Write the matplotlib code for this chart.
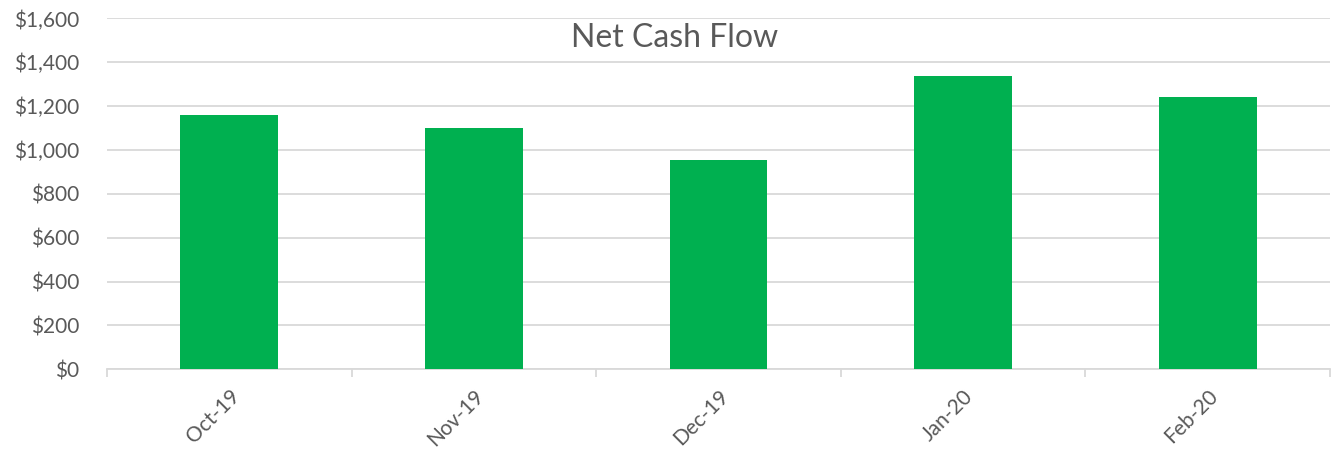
import matplotlib
matplotlib.use("Agg")
import matplotlib.pyplot as plt
from matplotlib.ticker import FuncFormatter, FixedLocator
import numpy as np

months = ["Oct-19", "Nov-19", "Dec-19", "Jan-20", "Feb-20"]
net_cash = [1160, 1100, 955, 1337, 1242]
yticks = [0, 200, 400, 600, 800, 1000, 1200, 1400, 1600]

plt.rcParams['font.family'] = ['Lato', 'DejaVu Sans']
text_col = "#595959"
grid_col = "#D9D9D9"
green = "#00B050"

fig = plt.figure(figsize=(13.35, 4.5), dpi=100)
ax = fig.add_axes([0.0801, 0.1793, 0.9162, 0.7796])

x = np.arange(len(months))
ax.bar(x, net_cash, width=0.4, color=green, zorder=3)

ax.set_xlim(-0.5, len(months) - 0.5)
ax.set_ylim(0, 1600)
ax.set_yticks(yticks)
ax.yaxis.set_major_formatter(FuncFormatter(lambda v, p: f"${v:,.0f}"))
ax.grid(axis='y', color=grid_col, linewidth=1.3, zorder=0)
ax.tick_params(axis='y', length=0, labelsize=15, labelcolor=text_col, pad=20)

ax.set_xticks(x)
ax.set_xticklabels(months, rotation=45, ha='right', rotation_mode='anchor',
                   fontsize=15, color=text_col)
ax.xaxis.set_minor_locator(FixedLocator(np.arange(-0.5, len(months), 1.0)))
ax.tick_params(axis='x', which='major', length=0, pad=12)
ax.tick_params(axis='x', which='minor', length=6, color=grid_col, width=1.3)

for s in ['top', 'right', 'left']:
    ax.spines[s].set_visible(False)
ax.spines['bottom'].set_color(grid_col)
ax.spines['bottom'].set_linewidth(1.3)

fig.text(0.5056, 0.915, "Net Cash Flow", ha='center', va='center',
         fontsize=23, color=text_col)

fig.savefig("out.png", dpi=100)
